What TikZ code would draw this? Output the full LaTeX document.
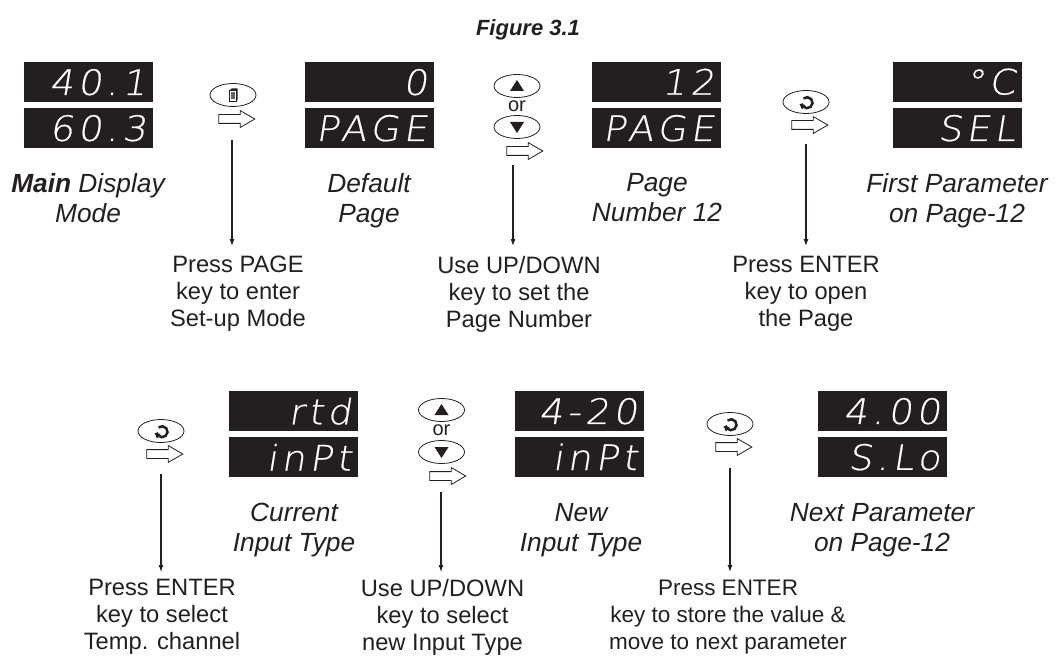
\documentclass[tikz,border=0pt]{standalone}
\usepackage{fontspec}
\setmainfont{Liberation Sans}
\newfontfamily\ledfont[LetterSpace=12,FakeSlant=0.16,FakeStretch=1.08,FakeBold=0.5]{DejaVu Sans ExtraLight}
\usetikzlibrary{shapes,shapes.arrows,arrows.meta}
\definecolor{inkblack}{HTML}{231F20}

\begin{document}
\begin{tikzpicture}[x=1pt,y=-1pt,
    panel/.style={fill=inkblack, text=white, minimum width=129pt, minimum height=40pt, text width=115pt, inner sep=0pt, align=right, anchor=north west, font=\ledfont\fontsize{35}{35}\selectfont},
    keyoval/.style={ellipse, draw=inkblack, line width=0.8pt, minimum width=46pt, minimum height=23pt, inner sep=0pt},
    flowarrow/.style={single arrow, draw=inkblack, line width=0.8pt, fill=white, minimum height=36pt, single arrow head extend=4pt, single arrow head indent=0pt, single arrow tip angle=60, inner sep=4pt},
    caption/.style={align=center, anchor=north, text=inkblack, inner sep=0pt, font=\fontsize{26.3}{30}\selectfont\itshape},
    hint/.style={align=center, anchor=north, text=inkblack, inner sep=0pt, font=\fontsize{23.7}{27}\selectfont},
    orword/.style={text=inkblack, inner sep=0pt, font=\fontsize{20}{20}\selectfont},
    leader/.style={draw=inkblack, line width=1.1pt, -{Latex[length=7pt,width=5pt]}},
    enterglyph/.pic={\draw[inkblack,line width=2.5pt] (-2.5,-3.5) arc[start angle=130,end angle=-170,radius=5.5pt]; \fill[inkblack] (-6.5,2) -- (-0.5,3) -- (-4,7.5) -- cycle;},
    pageglyph/.pic={\draw[inkblack,line width=0.8pt,fill=white] (-3.5,-4.5) rectangle (3.5,6); \fill[inkblack] (-3.5,-4.5) -- (-1.5,-6.5) -- (4.5,-6.5) -- (4.5,5) -- (3.5,6) -- (3.5,-4.5) -- cycle; \fill[inkblack!70] (-2,-2.5) rectangle (2,4.5);},
    upglyph/.pic={\fill[inkblack] (-7,5) -- (7,5) -- (0,-6) -- cycle;},
    downglyph/.pic={\fill[inkblack] (-7,-5) -- (7,-5) -- (0,6) -- cycle;}]

    \node[font=\fontsize{22}{22}\selectfont\bfseries\itshape,text=inkblack] (title) at (528,30) {Figure 3.1};

    % upper row
    \node[panel] (mainTop) at (24,62) {40.1};
    \node[panel] (mainBottom) at (24,108) {60.3};
    \node[panel] (defaultTop) at (305,62) {0};
    \node[panel] (defaultBottom) at (305,108) {PAGE};
    \node[panel] (numberTop) at (592,61.5) {12};
    \node[panel] (numberBottom) at (592,108) {PAGE};
    \node[panel] (firstTop) at (893,61.5) {°C};
    \node[panel] (firstBottom) at (893,108) {SEL};

    \node[caption] (mainText) at (88,173) {\textbf{Main} Display\\Mode};
    \node[caption] (defaultText) at (369,173) {Default\\Page};
    \node[caption] (numberText) at (657,173) {Page\\Number 12};
    \node[caption] (firstText) at (957,173) {First Parameter\\on Page-12};

    \node[keyoval] (pageKey) at (233,95) {};
    \pic at (pageKey) {pageglyph};
    \node[flowarrow] (pageArrow) at (233,119) {};
    \node[keyoval] (upKeyA) at (517,86) {};
    \pic at (upKeyA) {upglyph};
    \node[orword] (orA) at (517,106) {or};
    \node[keyoval] (downKeyA) at (517,127) {};
    \pic at (downKeyA) {downglyph};
    \node[flowarrow] (setArrow) at (521,151) {};
    \node[keyoval] (enterKeyA) at (806,102) {};
    \pic at (enterKeyA) {enterglyph};
    \node[flowarrow] (openArrow) at (806,125) {};

    \node[hint] (pageHint) at (238,256) {Press PAGE\\key to enter\\Set-up Mode};
    \node[hint] (setHint) at (519,256) {Use UP/DOWN\\key to set the\\Page Number};
    \node[hint] (openHint) at (806,256) {Press ENTER\\key to open\\the Page};

    \coordinate (pageFoot) at (232,140);
    \coordinate (setFoot) at (513,165);
    \coordinate (openFoot) at (806,144);
    \draw[leader,shorten >=10pt] (pageFoot) -- (pageHint.north-|pageFoot);
    \draw[leader,shorten >=10pt] (setFoot) -- (setHint.north-|setFoot);
    \draw[leader,shorten >=10pt] (openFoot) -- (openHint.north-|openFoot);

    % lower row
    \node[panel] (currentTop) at (229,391) {rtd};
    \node[panel] (currentBottom) at (229,437) {inPt};
    \node[panel] (newTop) at (515,391) {4-20};
    \node[panel] (newBottom) at (515,436.5) {inPt};
    \node[panel] (nextTop) at (818,391) {4.00};
    \node[panel] (nextBottom) at (818,437) {S.Lo};

    \node[caption] (currentText) at (294,502.7) {Current\\Input Type};
    \node[caption] (newText) at (581,502.7) {New\\Input Type};
    \node[caption] (nextText) at (882,502.7) {Next Parameter\\on Page-12};

    \node[keyoval] (enterKeyB) at (161,431) {};
    \pic at (enterKeyB) {enterglyph};
    \node[flowarrow] (selectArrow) at (161,454) {};
    \node[keyoval] (upKeyB) at (441.5,410) {};
    \pic at (upKeyB) {upglyph};
    \node[orword] (orB) at (441.5,430) {or};
    \node[keyoval] (downKeyB) at (441.5,452) {};
    \pic at (downKeyB) {downglyph};
    \node[flowarrow] (typeArrow) at (444,476) {};
    \node[keyoval] (enterKeyC) at (730,424) {};
    \pic at (enterKeyC) {enterglyph};
    \node[flowarrow] (storeArrow) at (730,447) {};

    \node[hint] (selectHint) at (162,579) {Press ENTER\\key to select\\Temp. channel};
    \node[hint] (typeHint) at (442.5,579) {Use UP/DOWN\\key to select\\new Input Type};
    \node[hint,font=\fontsize{22.5}{27}\selectfont] (storeHint) at (728,580) {Press ENTER\\key to store the value \&\\move to next parameter};

    \coordinate (selectFoot) at (161,474);
    \coordinate (typeFoot) at (441,492);
    \coordinate (storeFoot) at (730,468);
    \draw[leader,shorten >=7pt] (selectFoot) -- (selectHint.north-|selectFoot);
    \draw[leader,shorten >=7pt] (typeFoot) -- (typeHint.north-|typeFoot);
    \draw[leader,shorten >=8pt] (storeFoot) -- (storeHint.north-|storeFoot);

    \useasboundingbox (0,0) rectangle (1056,653);
\end{tikzpicture}
\end{document}
